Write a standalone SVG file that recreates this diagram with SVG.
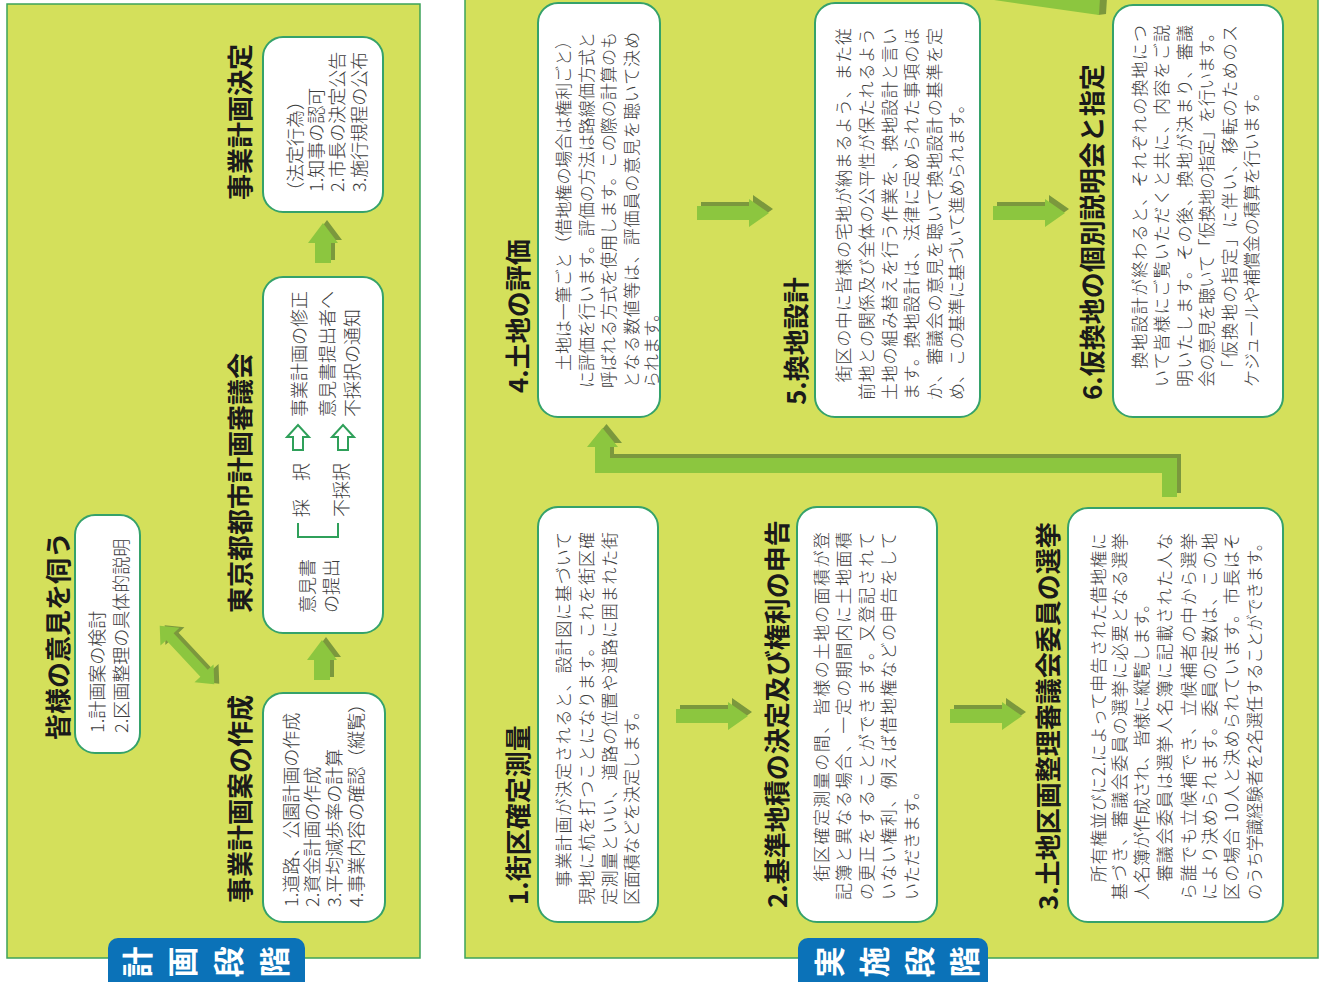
<svg xmlns="http://www.w3.org/2000/svg" xmlns:xlink="http://www.w3.org/1999/xlink" width="1325" height="982" viewBox="0 0 1325 982">
<style>
.panel{fill:#d4e05b;stroke:#3da35a;stroke-width:1.5}
.box{fill:#fff;stroke:#35a26a;stroke-width:2}
.t{font-family:'Noto Sans CJK JP','Noto Sans',sans-serif;font-weight:bold;font-size:26px;fill:#1a1a1a;dominant-baseline:central}
.b{font-family:'Noto Sans CJK JP','Noto Sans',sans-serif;font-weight:300;font-size:17px;fill:#3c3c3c;dominant-baseline:central}
.bl{font-size:18px}
.tab{fill:#0b72b8}
.tabt{font-family:'Noto Sans CJK JP','Noto Sans',sans-serif;font-weight:bold;font-size:31px;fill:#fff;text-anchor:middle;dominant-baseline:central}
.lt{fill:#8cc63f}
.sh{fill:#7b983d}
.hol{fill:#fff;stroke:#2fa05a;stroke-width:2;stroke-linejoin:miter}
.brk{fill:none;stroke:#2fa05a;stroke-width:2}
</style>
<defs>
<path id="fatR" d="M0,-7 H52 V-14 L72,0 L52,14 V7 H0 Z"/>
<path id="fatU" d="M0,0 L15,20 H8 V40 H-8 V20 H-15 Z"/>
<path id="holR" d="M0,-5 H13 V-11 L25,0 L13,11 V5 H0 Z"/>
</defs>
<rect width="1325" height="982" fill="#fff"/>
<g id="rotated" transform="translate(0,982) rotate(-90)">
  <g id="panel-plan">
    <rect class="panel" x="24" y="7" width="954" height="413"/>
  </g>
  <g id="panel-exec">
    <rect class="panel" x="24" y="465" width="965" height="853"/>
  </g>
  <g id="tab-plan">
    <rect class="tab" x="-10" y="108" width="54" height="197" rx="10"/>
    <text class="tabt" x="20" y="135">計</text>
    <text class="tabt" x="20" y="180">画</text>
    <text class="tabt" x="20" y="226">段</text>
    <text class="tabt" x="20" y="272">階</text>
  </g>
  <g id="tab-exec">
    <rect class="tab" x="-10" y="798" width="54" height="190" rx="10"/>
    <text class="tabt" x="20" y="827">実</text>
    <text class="tabt" x="20" y="872">施</text>
    <text class="tabt" x="20" y="917">段</text>
    <text class="tabt" x="20" y="962">階</text>
  </g>
  <g id="node-opinion">
    <text class="t" x="242" y="56">皆様の意見を伺う</text>
    <rect class="box" x="229" y="75" width="238" height="65" rx="20"/>
    <text class="b bl" x="249" y="96">1.計画案の検討</text>
    <text class="b bl" x="249" y="120">2.区画整理の具体的説明</text>
  </g>
  <g id="node-draft">
    <text class="t" x="79" y="238">事業計画案の作成</text>
    <rect class="box" x="60" y="263" width="229" height="122" rx="20"/>
    <text class="b bl" x="75" y="290">1.道路、公園計画の作成</text>
    <text class="b bl" x="75" y="311">2.資金計画の作成</text>
    <text class="b bl" x="75" y="333">3.平均減歩率の計算</text>
    <text class="b bl" x="75" y="355">4.事業内容の確認（縦覧）</text>
  </g>
  <g id="node-council">
    <text class="t" x="369" y="238">東京都都市計画審議会</text>
    <rect class="box" x="349" y="263" width="356" height="120" rx="20"/>
    <text class="b bl" x="369" y="306">意見書</text>
    <text class="b bl" x="369" y="330">の提出</text>
    <path class="brk" d="M459,298 L445,298 L445,338 L459,338"/>
    <text class="b bl" x="465" y="300">採　択</text>
    <text class="b bl" x="465" y="340">不採択</text>
    <use href="#holR" class="hol" transform="translate(532,298)"/>
    <use href="#holR" class="hol" transform="translate(532,343)"/>
    <text class="b bl" x="565" y="298">事業計画の修正</text>
    <text class="b bl" x="565" y="326">意見書提出者へ</text>
    <text class="b bl" x="565" y="351">不採択の通知</text>
  </g>
  <g id="node-decision">
    <text class="t" x="782" y="238">事業計画決定</text>
    <rect class="box" x="770" y="263" width="175" height="120" rx="20"/>
    <text class="b bl" x="782" y="294">（法定行為）</text>
    <text class="b bl" x="790" y="315">1.知事の認可</text>
    <text class="b bl" x="790" y="336">2.市長の決定公告</text>
    <text class="b bl" x="790" y="358">3.施行規程の公布</text>
  </g>
  <g id="node-1">
    <text class="t" x="77" y="516">1.街区確定測量</text>
    <rect class="box" x="60" y="538" width="415" height="120" rx="20"/>
    <text class="b" x="77" y="562" textLength="373">　事業計画が決定されると、設計図に基づいて</text>
    <text class="b" x="77" y="585" textLength="373">現地に杭を打つことになります。これを街区確</text>
    <text class="b" x="77" y="608" textLength="373">定測量といい、道路の位置や道路に囲まれた街</text>
    <text class="b" x="77" y="630">区面積などを決定します。</text>
  </g>
  <g id="node-2">
    <text class="t" x="74" y="775">2.基準地積の決定及び権利の申告</text>
    <rect class="box" x="60" y="797" width="415" height="140" rx="20"/>
    <text class="b" x="82" y="820" textLength="368">　街区確定測量の間、皆様の土地の面積が登</text>
    <text class="b" x="82" y="842" textLength="368">記簿と異なる場合、一定の期間内に土地面積</text>
    <text class="b" x="82" y="865" textLength="368">の更正をすることができます。又登記されて</text>
    <text class="b" x="82" y="887" textLength="368">いない権利、例えば借地権などの申告をして</text>
    <text class="b" x="82" y="910">いただきます。</text>
  </g>
  <g id="node-3">
    <text class="t" x="72" y="1046">3.土地区画整理審議会委員の選挙</text>
    <rect class="box" x="60" y="1068" width="414" height="215" rx="20"/>
    <text class="b" x="82" y="1097" textLength="367">　所有権並びに2.によって申告された借地権に</text>
    <text class="b" x="82" y="1118" textLength="367">基づき、審議会委員の選挙に必要となる選挙</text>
    <text class="b" x="82" y="1140">人名簿が作成され、皆様に縦覧します。</text>
    <text class="b" x="82" y="1163" textLength="367">　審議会委員は選挙人名簿に記載された人な</text>
    <text class="b" x="82" y="1187" textLength="367">ら誰でも立候補でき、立候補者の中から選挙</text>
    <text class="b" x="82" y="1208" textLength="367">により決められます。委員の定数は、この地</text>
    <text class="b" x="82" y="1230" textLength="367">区の場合 10人と決められています。市長はそ</text>
    <text class="b" x="82" y="1253" textLength="365" lengthAdjust="spacingAndGlyphs">のうち学識経験者を2名選任することができます。</text>
  </g>
  <g id="node-4">
    <text class="t" x="589" y="516">4.土地の評価</text>
    <rect class="box" x="565" y="538" width="414" height="122" rx="20"/>
    <text class="b" x="594" y="562" textLength="356">　土地は一筆ごと（借地権の場合は権利ごと）</text>
    <text class="b" x="594" y="585" textLength="356">に評価を行います。評価の方法は路線価方式と</text>
    <text class="b" x="594" y="607" textLength="356">呼ばれる方式を使用します。この際の計算のも</text>
    <text class="b" x="594" y="630" textLength="356">となる数値等は、評価員の意見を聴いて決め</text>
    <text class="b" x="594" y="650">られます。</text>
  </g>
  <g id="node-5">
    <text class="t" x="577" y="794">5.換地設計</text>
    <rect class="box" x="565" y="815" width="414" height="165" rx="20"/>
    <text class="b" x="582" y="842" textLength="372">　街区の中に皆様の宅地が納まるよう、また従</text>
    <text class="b" x="582" y="865" textLength="372">前地との関係及び全体の公平性が保たれるよう</text>
    <text class="b" x="582" y="888" textLength="372">土地の組み替えを行う作業を、換地設計と言い</text>
    <text class="b" x="582" y="910" textLength="372">ます。換地設計は、法律に定められた事項のほ</text>
    <text class="b" x="582" y="933" textLength="372">か、審議会の意見を聴いて換地設計の基準を定</text>
    <text class="b" x="582" y="955">め、この基準に基づいて進められます。</text>
  </g>
  <g id="node-6">
    <text class="t" x="582" y="1090">6.仮換地の個別説明会と指定</text>
    <rect class="box" x="565" y="1113" width="412" height="170" rx="20"/>
    <text class="b" x="595" y="1138" textLength="362">　換地設計が終わると、それぞれの換地につ</text>
    <text class="b" x="595" y="1160" textLength="362">いて皆様にご覧いただくと共に、内容をご説</text>
    <text class="b" x="595" y="1183" textLength="362">明いたします。その後、換地が決まり、審議</text>
    <text class="b" x="595" y="1205" textLength="362" lengthAdjust="spacingAndGlyphs">会の意見を聴いて「仮換地の指定」を行います。</text>
    <text class="b" x="595" y="1228" textLength="362">　「仮換地の指定」に伴い、移転のためのス</text>
    <text class="b" x="595" y="1250">ケジュールや補償金の積算を行います。</text>
  </g>
</g>
<g id="connectors">
  <g id="dbl-arrow" transform="translate(187,655) rotate(47)">
    <path class="sh" transform="translate(3,-4)" d="M-40,0 L-25,-13 L-25,-5 L25,-5 L25,-13 L40,0 L25,13 L25,5 L-25,5 L-25,13 Z"/>
    <path class="lt" d="M-40,0 L-25,-13 L-25,-5 L25,-5 L25,-13 L40,0 L25,13 L25,5 L-25,5 L-25,13 Z"/>
  </g>
  <g id="up-1">
    <use href="#fatU" class="sh" transform="translate(326,637)"/>
    <use href="#fatU" class="lt" transform="translate(322,640)"/>
  </g>
  <g id="up-2">
    <use href="#fatU" class="sh" transform="translate(327,220)"/>
    <use href="#fatU" class="lt" transform="translate(323,223)"/>
  </g>
  <g id="r-1-2">
    <use href="#fatR" class="sh" transform="translate(680,712)"/>
    <use href="#fatR" class="lt" transform="translate(676,716)"/>
  </g>
  <g id="r-2-3">
    <use href="#fatR" class="sh" transform="translate(954,712)"/>
    <use href="#fatR" class="lt" transform="translate(950,716)"/>
  </g>
  <g id="r-4-5">
    <use href="#fatR" class="sh" transform="translate(701,209)"/>
    <use href="#fatR" class="lt" transform="translate(697,213)"/>
  </g>
  <g id="r-5-6">
    <use href="#fatR" class="sh" transform="translate(997,209)"/>
    <use href="#fatR" class="lt" transform="translate(993,213)"/>
  </g>
  <g id="l-3-4">
    <path class="sh" transform="translate(4,-4)" d="M1162,497 L1162,473 L595,473 L595,447 L587,447 L602.5,428 L618,447 L610,447 L610,458 L1177,458 L1177,497 Z"/>
    <path class="lt" d="M1162,497 L1162,473 L595,473 L595,447 L587,447 L602.5,428 L618,447 L610,447 L610,458 L1177,458 L1177,497 Z"/>
  </g>
  <g id="top-cut">
    <path class="sh" d="M1090,-2 L1107,-2 L1106,14 L1098,15 Z"/>
    <path class="lt" d="M980,-2 L1100,-2 L1099,15 Z"/>
  </g>
</g>
</svg>
